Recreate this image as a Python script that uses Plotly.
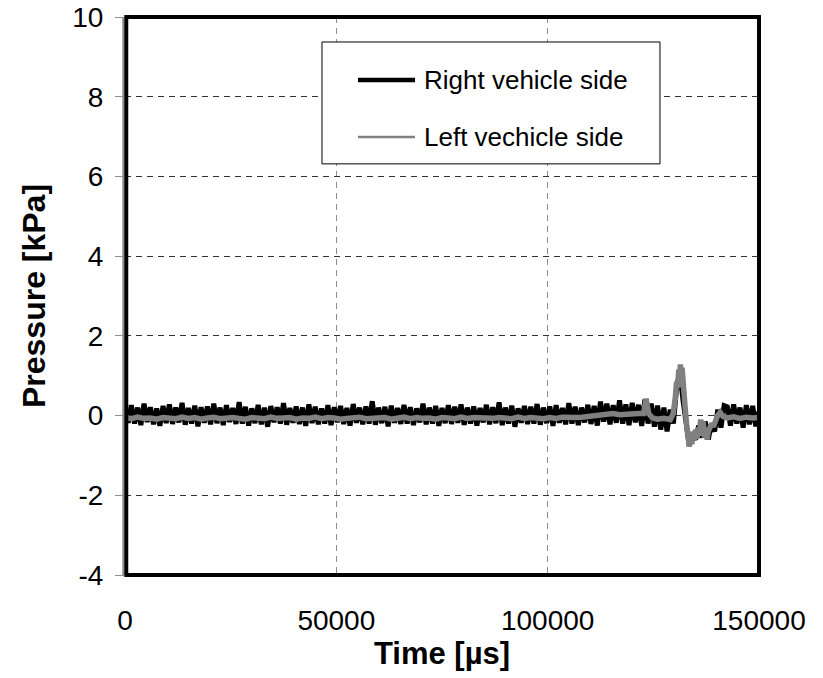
import plotly.graph_objects as go

# ---------------- data ----------------
# Right vehicle side (black), sampled every 750 µs from 0 to 150000 µs
right_step = 750
right_values = [
    0.22, -0.18, 0.26, -0.2, 0.2, -0.24, 0.3, -0.16, 0.21, -0.22,
    0.18, -0.26, 0.24, -0.19, 0.28, -0.21, 0.2, -0.17, 0.32, -0.23,
    0.19, -0.2, 0.25, -0.27, 0.21, -0.18, 0.23, -0.22, 0.3, -0.19,
    0.2, -0.24, 0.26, -0.16, 0.19, -0.21, 0.34, -0.2, 0.22, -0.25,
    0.18, -0.19, 0.27, -0.22, 0.2, -0.28, 0.24, -0.17, 0.21, -0.2,
    0.31, -0.23, 0.19, -0.18, 0.23, -0.21, 0.2, -0.26, 0.28, -0.19,
    0.22, -0.22, 0.18, -0.2, 0.26, -0.24, 0.21, -0.17, 0.24, -0.21,
    0.19, -0.25, 0.29, -0.18, 0.2, -0.22, 0.23, -0.2, 0.36, -0.23,
    0.2, -0.19, 0.22, -0.27, 0.25, -0.18, 0.19, -0.21, 0.27, -0.2,
    0.21, -0.24, 0.18, -0.17, 0.3, -0.22, 0.2, -0.2, 0.24, -0.26,
    0.19, -0.19, 0.26, -0.21, 0.22, -0.18, 0.28, -0.23, 0.2, -0.2,
    0.23, -0.25, 0.19, -0.17, 0.27, -0.22, 0.21, -0.19, 0.33, -0.24,
    0.2, -0.2, 0.25, -0.28, 0.18, -0.18, 0.24, -0.21, 0.22, -0.2,
    0.29, -0.23, 0.2, -0.19, 0.23, -0.26, 0.26, -0.18, 0.19, -0.22,
    0.31, -0.2, 0.22, -0.24, 0.2, -0.17, 0.27, -0.21, 0.24, -0.25,
    0.35, -0.15, 0.3, -0.22, 0.26, -0.18, 0.38, -0.2, 0.28, -0.24,
    0.32, -0.17, 0.27, -0.26, 0.4, -0.2, 0.3, -0.28, 0.25, -0.35,
    0.2, -0.4, 0.15, -0.2, 0.7, 1.1, 0.4, -0.3, -0.75, -0.5,
    -0.6, -0.25, -0.55, -0.15, -0.6, -0.2, -0.4, 0.15, -0.3, 0.25,
    0.22, -0.25, 0.28, -0.2, 0.2, -0.3, 0.26, -0.22, 0.24, -0.27,
    0.1,
]
right_time = [i * right_step for i in range(len(right_values))]

# Left vehicle side (grey)
left_time = [
    0, 1500, 3000, 4500, 6000, 7500, 9000, 10500, 12000, 13500,
    15000, 16500, 18000, 19500, 21000, 22500, 24000, 25500, 27000, 28500,
    30000, 31500, 33000, 34500, 36000, 37500, 39000, 40500, 42000, 43500,
    45000, 46500, 48000, 49500, 51000, 52500, 54000, 55500, 57000, 58500,
    60000, 61500, 63000, 64500, 66000, 67500, 69000, 70500, 72000, 73500,
    75000, 76500, 78000, 79500, 81000, 82500, 84000, 85500, 87000, 88500,
    90000, 91500, 93000, 94500, 96000, 97500, 99000, 100500, 102000, 103500,
    105000, 106500, 108000, 109500, 111000, 112500,
    114000, 115500, 117000, 118500, 120000, 121500, 122700, 123300, 123900, 124800,
    126000, 127500, 129000, 129700, 130200, 130500, 130800, 131000, 131200, 131400,
    131600, 131800, 132000, 132300, 132600, 132900, 133200, 133500, 133800, 134100,
    134400, 134700, 135000, 135300, 135600, 135900, 136200, 136500, 136800, 137100,
    137400, 137700, 138000, 138400, 138800, 139200, 139700, 140200, 140800, 141500,
    142500, 144000, 145500, 147000, 148500, 150000,
]
left_values = [
    -0.05, -0.08, -0.04, -0.07, -0.06, -0.09, -0.05, -0.06, -0.08, -0.04,
    -0.07, -0.05, -0.09, -0.06, -0.04, -0.08, -0.06, -0.05, -0.07, -0.09,
    -0.05, -0.06, -0.08, -0.04, -0.07, -0.06, -0.05, -0.09, -0.06, -0.07,
    -0.04, -0.08, -0.05, -0.06, -0.09, -0.07, -0.05, -0.04, -0.08, -0.06,
    -0.07, -0.05, -0.09, -0.06, -0.04, -0.08, -0.05, -0.07, -0.06, -0.09,
    -0.05, -0.06, -0.08, -0.04, -0.07, -0.05, -0.06, -0.09, -0.07, -0.05,
    -0.06, -0.08, -0.04, -0.07, -0.05, -0.06, -0.08, -0.05, -0.07, -0.04,
    -0.06, -0.05, -0.04, -0.02, 0.0, 0.03,
    0.04, 0.05, 0.02, 0.04, 0.03, 0.05, 0.05, 0.42, 0.05, -0.06,
    -0.09, -0.07, -0.1, 0.05, 0.45, 0.85, 0.7, 1.15, 0.95, 1.28,
    1.0, 1.2, 0.75, 0.45, 0.1, -0.25, -0.6, -0.78, -0.5, -0.72,
    -0.4, -0.62, -0.35, -0.58, -0.3, -0.5, -0.1, -0.35, -0.15, -0.55,
    -0.3, -0.6, -0.4, -0.3, -0.2, -0.28, -0.1, 0.0, 0.08, -0.02,
    -0.06, -0.03, -0.07, -0.04, -0.06, -0.05,
]

series_names = ["Right vehicle side", "Left vechicle side"]
series_colors = ["black", "#808080"]
x_ticks = [0, 50000, 100000, 150000]
y_ticks = [-4, -2, 0, 2, 4, 6, 8, 10]

# ---------------- figure ----------------
fig = go.Figure()
fig.add_trace(go.Scatter(x=right_time, y=right_values, mode="lines", name=series_names[0],
                         line=dict(color=series_colors[0], width=5), showlegend=False))
fig.add_trace(go.Scatter(x=left_time, y=left_values, mode="lines", name=series_names[1],
                         line=dict(color=series_colors[1], width=5.5), showlegend=False))

font_family = "Liberation Sans, Arial, sans-serif"

fig.update_layout(
    width=823, height=678,
    margin=dict(l=125, r=64, t=17, b=102.5),
    paper_bgcolor="white", plot_bgcolor="white",
    font=dict(family=font_family, color="black"),
    showlegend=False,
    xaxis=dict(
        range=[0, 150000], tickvals=x_ticks, ticktext=[str(v) for v in x_ticks],
        showgrid=True, gridcolor="#8c8c8c", griddash="6px,5px", gridwidth=1,
        ticks="outside", ticklen=20, tickcolor="rgba(0,0,0,0)",
        tickfont=dict(size=28), zeroline=False, showline=False, automargin=False,
        title=dict(text="<b>Time [µs]</b>", font=dict(size=31), standoff=4),
    ),
    yaxis=dict(
        range=[-4, 10], tickvals=y_ticks, ticktext=[str(v) for v in y_ticks],
        showgrid=True, gridcolor="#333333", griddash="6px,5px", gridwidth=1,
        ticks="outside", ticklen=9, tickcolor="#8c8c8c", tickwidth=1,
        ticklabelstandoff=6, automargin=False,
        tickfont=dict(size=28), zeroline=False, showline=False,
        title=dict(text="<b>Pressure [kPa]</b>", font=dict(size=32), standoff=17),
    ),
)

# plot frame (thick black) and grey vertical axis line
fig.add_shape(type="line", xref="paper", yref="paper", x0=-0.0027, x1=-0.0027, y0=0, y1=1,
              line=dict(color="#8c8c8c", width=2), layer="above")
fig.add_shape(type="rect", xref="paper", yref="paper", x0=0.002, x1=1.0, y0=0, y1=1,
              line=dict(color="black", width=4), layer="above")

# legend box drawn as shapes + text
leg_x0, leg_x1, leg_y0, leg_y1 = 0.3107, 0.8438, 0.7368, 0.9552
fig.add_shape(type="rect", xref="paper", yref="paper", x0=leg_x0, x1=leg_x1, y0=leg_y0, y1=leg_y1,
              line=dict(color="black", width=1), fillcolor="white", layer="above")
row_y = [0.8872, 0.7851]
row_w = [4.5, 2.5]
for name, color, yy, w in zip(series_names, series_colors, row_y, row_w):
    fig.add_shape(type="line", xref="paper", yref="paper", x0=0.3675, x1=0.4574, y0=yy, y1=yy,
                  line=dict(color=color, width=w), layer="above")
    fig.add_annotation(xref="paper", yref="paper", x=0.4685, y=yy, xanchor="left", yanchor="middle",
                       text=name, showarrow=False, font=dict(size=26, family=font_family, color="black"))

fig.write_html("out.html")
